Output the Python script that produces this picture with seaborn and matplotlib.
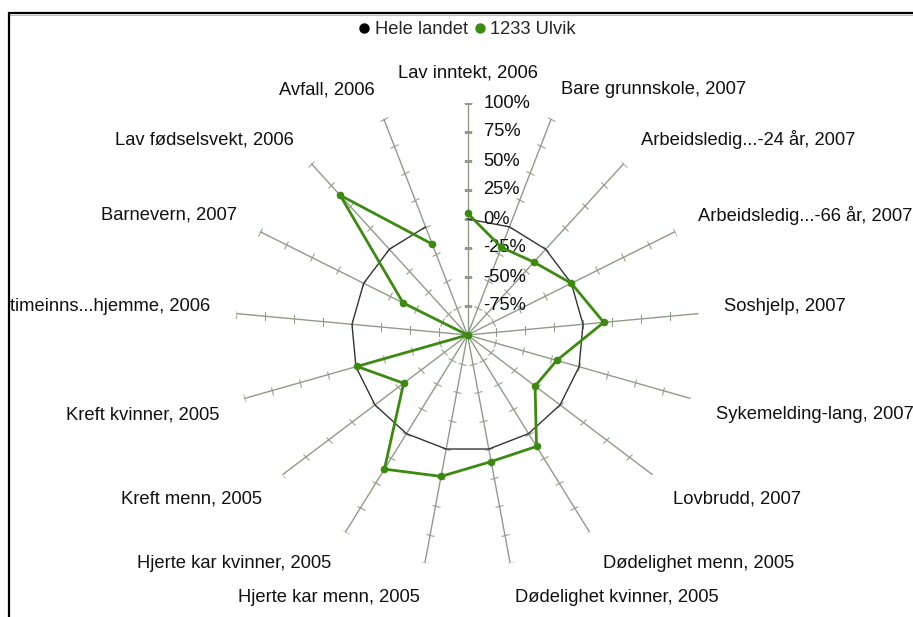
import numpy as np
import pandas as pd
import matplotlib
matplotlib.use("Agg")
import matplotlib.pyplot as plt
import seaborn as sns
from matplotlib.markers import MarkerStyle
from matplotlib.transforms import Affine2D
from matplotlib.lines import Line2D

# ---------------- data ----------------
categories = [
    "Lav inntekt, 2006", "Bare grunnskole, 2007", "Arbeidsledig...-24 år, 2007",
    "Arbeidsledig...-66 år, 2007", "Soshjelp, 2007", "Sykemelding-lang, 2007",
    "Lovbrudd, 2007", "Dødelighet menn, 2005", "Dødelighet kvinner, 2005",
    "Hjerte kar menn, 2005", "Hjerte kar kvinner, 2005", "Kreft menn, 2005",
    "Kreft kvinner, 2005", "timeinns...hjemme, 2006", "Barnevern, 2007",
    "Lav fødselsvekt, 2006", "Avfall, 2006",
]
hele_landet = [0, 0, 0, 0, 0, 0, 0, 0, 0, 0, 0, 0, 0, 0, 0, 0, 0]
ulvik = [5, -19, -15, 0, 18, -20, -27, 13, 11, 24, 36, -31, -1, -100, -38, 63, -16]
series_names = ["Hele landet", "1233 Ulvik"]
radial_ticks = [-75, -50, -25, 0, 25, 50, 75, 100]
radial_tick_labels = ["-75%", "-50%", "-25%", "0%", "25%", "50%", "75%", "100%"]

# ---------------- style ----------------
sns.set_style("white")
plt.rcParams["font.family"] = ["Liberation Sans", "DejaVu Sans"]
FS = 13.2
GREEN = "#3d8a10"
DARK = "#333333"
SPOKE = "#8f9c88"

W, H = 913, 617
fig = plt.figure(figsize=(W / 100, H / 100), dpi=100)
cx, cy, R = 467.5, 335.0, 232.0
ax = fig.add_axes([(cx - R) / W, (H - cy - R) / H, 2 * R / W, 2 * R / H], projection="polar")
ax.set_theta_zero_location("N")
ax.set_theta_direction(-1)
ax.set_ylim(-100, 100)

n = len(categories)
theta = np.arange(n) * 2 * np.pi / n

# spokes with tick marks
for t in theta:
    ax.plot([t, t], [-100, 100], color=SPOKE, lw=1.0, zorder=1)
    mk = MarkerStyle("_", transform=Affine2D().rotate_deg(-np.degrees(t)))
    ax.plot(np.full(len(radial_ticks), t), radial_ticks, ls="none", marker=mk,
            markersize=6.0, mew=0.75, color=SPOKE, zorder=1)

# series
df = pd.DataFrame({
    "theta": np.concatenate([theta, theta[:1], theta, theta[:1]]),
    "value": hele_landet + hele_landet[:1] + ulvik + ulvik[:1],
    "series": [series_names[0]] * (n + 1) + [series_names[1]] * (n + 1),
})
sns.lineplot(data=df[df.series == series_names[0]], x="theta", y="value", sort=False,
             color=DARK, lw=1.0, ax=ax, zorder=2, legend=False)
sns.lineplot(data=df[df.series == series_names[1]], x="theta", y="value", sort=False,
             color=GREEN, lw=2.0, marker="o", markersize=5.5, markeredgewidth=0,
             ax=ax, zorder=3, legend=False)

ax.grid(False)
ax.set_xticks([])
ax.set_yticks([])
ax.spines["polar"].set_visible(False)
ax.set_facecolor("none")
ax.set_xlabel("")
ax.set_ylabel("")

# radial tick labels
for v, lab in zip(radial_ticks, radial_tick_labels):
    ax.annotate(lab, xy=(0, v), xytext=(16, 0), textcoords="offset pixels",
                ha="left", va="center", fontsize=FS, color="#111111", zorder=2)

# category labels
for t, lab in zip(theta, categories):
    s, c = np.sin(t), np.cos(t)
    if s > 0.05:
        ha = "left"
    elif s < -0.05:
        ha = "right"
    else:
        ha = "center"
    dy = 4.5 if c > 0 else -9
    ax.annotate(lab, xy=(t, 100), xytext=(26 * s, 26 * c + dy), textcoords="offset pixels",
                ha=ha, va="center", fontsize=FS, color="#111111", annotation_clip=False)

# legend
handles = [Line2D([], [], ls="none", marker="o", color="black", markersize=6.5),
           Line2D([], [], ls="none", marker="o", color=GREEN, markersize=6.5)]
fig.legend(handles, series_names, loc="center", bbox_to_anchor=(cx / W, 1 - 30 / H),
           ncol=2, frameon=False, fontsize=FS, handlelength=0.6, handletextpad=0.25,
           columnspacing=0.4, borderaxespad=0)

# frame
fig.add_artist(Line2D([8.5 / W, 1.0], [1 - 12.5 / H, 1 - 12.5 / H], transform=fig.transFigure,
                      color="black", lw=1.6))
fig.add_artist(Line2D([8.5 / W, 1.0], [1 - 14.5 / H, 1 - 14.5 / H], transform=fig.transFigure,
                      color="#bbbbbb", lw=0.8))
fig.add_artist(Line2D([8.5 / W, 8.5 / W], [0, 1 - 12.5 / H], transform=fig.transFigure,
                      color="black", lw=1.6))

fig.savefig("out.png", dpi=100)
